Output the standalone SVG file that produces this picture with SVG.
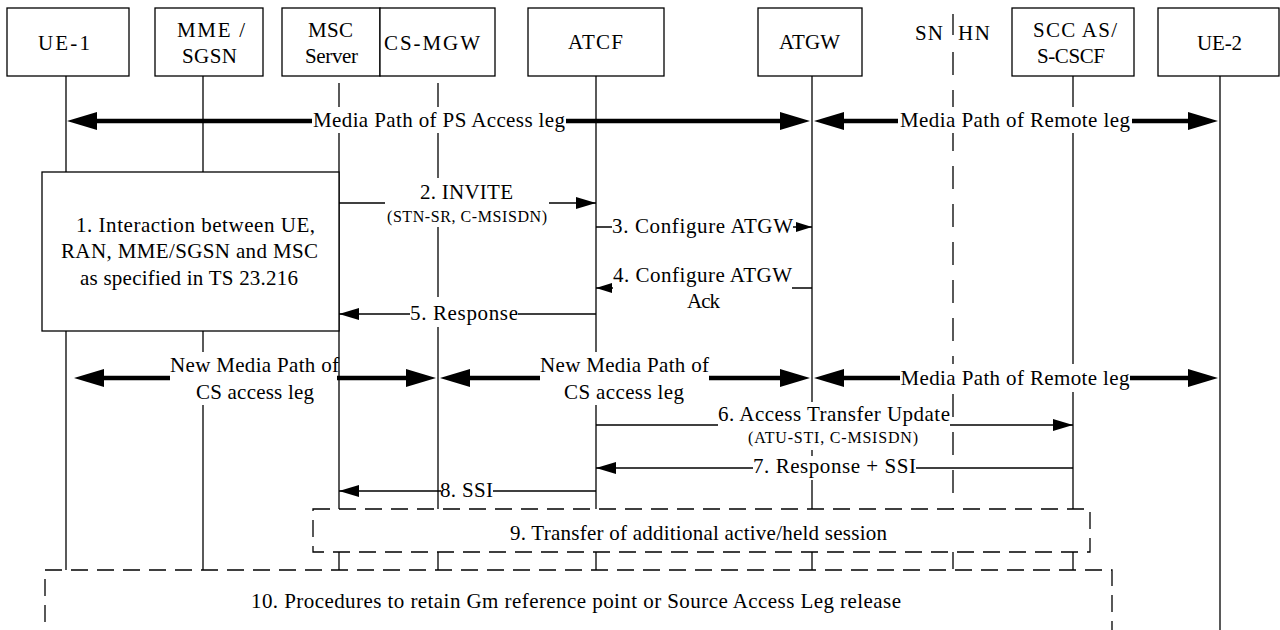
<svg xmlns="http://www.w3.org/2000/svg" width="1280" height="630" viewBox="0 0 1280 630">
<style>
text{font-family:'Liberation Serif','Times New Roman',serif;font-size:21px;fill:#000;text-anchor:middle}
text.s{font-size:16px}
.box{fill:#fff;stroke:#000;stroke-width:1.3}
.ll{stroke:#000;stroke-width:1.3}
.msg{stroke:#000;stroke-width:1.3;fill:none}
.thk{stroke:#000;stroke-width:4.5;fill:none}
.bg{fill:#fff}
.dbox{fill:#fff;stroke:#000;stroke-width:1.3;stroke-dasharray:17 9}
.div{stroke:#000;stroke-width:1.3}
</style>
<defs>
<marker id="ah" markerUnits="userSpaceOnUse" markerWidth="20" markerHeight="12" refX="20" refY="6" orient="auto"><path d="M0,0 L20,6 L0,12 z" fill="#000"/></marker>
<marker id="ahs" markerUnits="userSpaceOnUse" markerWidth="16" markerHeight="10" refX="16" refY="5" orient="auto"><path d="M0,0 L16,5 L0,10 z" fill="#000"/></marker>
<marker id="ahb" markerUnits="userSpaceOnUse" markerWidth="30" markerHeight="18" refX="0" refY="9" orient="auto-start-reverse"><path d="M0,0 L30,9 L0,18 z" fill="#000"/></marker>
</defs>
<rect width="1280" height="630" fill="#fff"/>

<g id="lifelines">
<line class="ll" x1="66" y1="76" x2="66" y2="630"/>
<line class="ll" x1="203" y1="76" x2="203" y2="630"/>
<line class="ll" x1="339" y1="83" x2="339" y2="630"/>
<line class="ll" x1="438" y1="83" x2="438" y2="630"/>
<line class="ll" x1="596" y1="76" x2="596" y2="630"/>
<line class="ll" x1="812" y1="76" x2="812" y2="630"/>
<line class="ll" x1="1073" y1="76" x2="1073" y2="630"/>
<line class="ll" x1="1220" y1="76" x2="1220" y2="630"/>
</g>

<g id="ue1"><rect class="box" x="7" y="8" width="122" height="68"/><text x="64" y="50" textLength="52" lengthAdjust="spacing">UE-1</text></g>
<g id="mme"><rect class="box" x="155" y="8" width="108" height="68"/><text x="211" y="37" textLength="68" lengthAdjust="spacing">MME /</text><text x="209.5" y="63" textLength="55" lengthAdjust="spacing">SGSN</text></g>
<g id="msc"><rect class="box" x="282" y="8" width="98" height="68"/><text x="330.5" y="37" textLength="45" lengthAdjust="spacing">MSC</text><text x="331.5" y="63" textLength="53" lengthAdjust="spacing">Server</text></g>
<g id="csmgw"><rect class="box" x="380" y="8" width="115" height="68"/><text x="432" y="50" textLength="96" lengthAdjust="spacing">CS-MGW</text></g>
<g id="atcf"><rect class="box" x="528" y="8" width="136" height="68"/><text x="595.5" y="49" textLength="55" lengthAdjust="spacing">ATCF</text></g>
<g id="atgw"><rect class="box" x="758" y="8" width="104" height="68"/><text x="809.5" y="49" textLength="61" lengthAdjust="spacing">ATGW</text></g>
<g id="snhn">
<text x="929" y="40" textLength="28" lengthAdjust="spacing">SN</text>
<text x="974" y="40" textLength="32" lengthAdjust="spacing">HN</text>
<line class="div" x1="953" y1="14" x2="953" y2="35"/>
<line class="div" x1="953" y1="52" x2="953" y2="630" stroke-dasharray="23 15"/>
</g>
<g id="scc"><rect class="box" x="1012" y="8" width="122" height="68"/><text x="1075" y="37" textLength="84" lengthAdjust="spacing">SCC AS/</text><text x="1071" y="63" textLength="68" lengthAdjust="spacing">S-CSCF</text></g>
<g id="ue2"><rect class="box" x="1158" y="8" width="121" height="68"/><text x="1219.5" y="50" textLength="45" lengthAdjust="spacing">UE-2</text></g>

<g id="step1"><rect class="box" x="42" y="172" width="297" height="159"/>
<text x="195.5" y="232" textLength="239" lengthAdjust="spacing">1. Interaction between UE,</text>
<text x="189.5" y="258" textLength="257" lengthAdjust="spacing">RAN, MME/SGSN and MSC</text>
<text x="189" y="285" textLength="218" lengthAdjust="spacing">as specified in TS 23.216</text>
</g>

<g id="connectors">
<line class="thk" x1="97" y1="121" x2="780" y2="121" marker-start="url(#ahb)" marker-end="url(#ahb)"/>
<line class="thk" x1="844" y1="121" x2="1188" y2="121" marker-start="url(#ahb)" marker-end="url(#ahb)"/>
<line class="msg" x1="339" y1="203" x2="596" y2="203" marker-end="url(#ah)"/>
<line class="msg" x1="596" y1="227" x2="812" y2="227" marker-end="url(#ahs)"/>
<line class="msg" x1="812" y1="288" x2="596" y2="288" marker-end="url(#ahs)"/>
<line class="msg" x1="596" y1="314" x2="339" y2="314" marker-end="url(#ah)"/>
<line class="thk" x1="104" y1="378" x2="406" y2="378" marker-start="url(#ahb)" marker-end="url(#ahb)"/>
<line class="thk" x1="470" y1="378" x2="780" y2="378" marker-start="url(#ahb)" marker-end="url(#ahb)"/>
<line class="thk" x1="844" y1="378" x2="1188" y2="378" marker-start="url(#ahb)" marker-end="url(#ahb)"/>
<line class="msg" x1="596" y1="425" x2="1073" y2="425" marker-end="url(#ah)"/>
<line class="msg" x1="1073" y1="468" x2="596" y2="468" marker-end="url(#ah)"/>
<line class="msg" x1="596" y1="491" x2="339" y2="491" marker-end="url(#ah)"/>
</g>

<g id="labels">
<rect class="bg" x="312" y="107" width="254" height="26"/>
<text x="439" y="127" textLength="252" lengthAdjust="spacing">Media Path of PS Access leg</text>
<rect class="bg" x="898" y="107" width="234" height="26"/>
<text x="1015" y="127" textLength="230" lengthAdjust="spacing">Media Path of Remote leg</text>

<rect class="bg" x="385" y="178" width="164" height="49"/>
<text x="466.5" y="199" textLength="93" lengthAdjust="spacing">2. INVITE</text>
<text class="s" x="467" y="222" textLength="160" lengthAdjust="spacing">(STN-SR, C-MSISDN)</text>

<rect class="bg" x="612" y="216" width="181" height="24"/>
<text x="702.5" y="233" textLength="181" lengthAdjust="spacing">3. Configure ATGW</text>

<rect class="bg" x="613" y="266" width="179" height="47"/>
<text x="702.5" y="282" textLength="179" lengthAdjust="spacing">4. Configure ATGW</text>
<text x="703.5" y="308" textLength="33" lengthAdjust="spacing">Ack</text>

<rect class="bg" x="410" y="297" width="108" height="30"/>
<text x="464" y="320" textLength="108" lengthAdjust="spacing">5. Response</text>

<rect class="bg" x="170" y="352" width="167" height="53"/>
<text x="254.5" y="372" textLength="169" lengthAdjust="spacing">New Media Path of</text>
<text x="255" y="399" textLength="118" lengthAdjust="spacing">CS access leg</text>

<rect class="bg" x="540" y="352" width="169" height="53"/>
<text x="624.5" y="372" textLength="169" lengthAdjust="spacing">New Media Path of</text>
<text x="624" y="399" textLength="120" lengthAdjust="spacing">CS access leg</text>

<rect class="bg" x="900" y="364" width="230" height="28"/>
<text x="1015" y="385" textLength="229" lengthAdjust="spacing">Media Path of Remote leg</text>

<rect class="bg" x="718" y="402" width="232" height="48"/>
<text x="834" y="421" textLength="232" lengthAdjust="spacing">6. Access Transfer Update</text>
<text class="s" x="833" y="443" textLength="170" lengthAdjust="spacing">(ATU-STI, C-MSISDN)</text>

<rect class="bg" x="753" y="456" width="163" height="24"/>
<text x="834.5" y="473" textLength="163" lengthAdjust="spacing">7. Response + SSI</text>

<rect class="bg" x="441" y="481" width="52" height="20"/>
<text x="466.5" y="497" textLength="53" lengthAdjust="spacing">8. SSI</text>
</g>

<g id="step9">
<rect class="dbox" x="313" y="509" width="777" height="43"/>
<text x="698.5" y="540" textLength="377" lengthAdjust="spacing">9. Transfer of additional active/held session</text>
</g>

<g id="step10">
<rect class="dbox" x="45" y="570" width="1067" height="90"/>
<text x="576" y="608" textLength="650" lengthAdjust="spacing">10. Procedures to retain Gm reference point or Source Access Leg release</text>
</g>
</svg>
